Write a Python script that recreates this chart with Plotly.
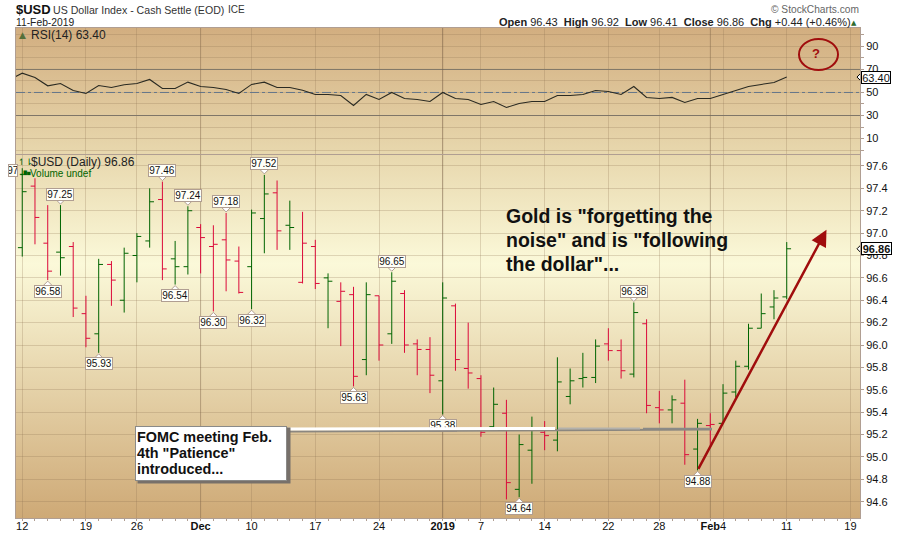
"""$USD daily bars with RSI(14) panel, StockCharts style, with chart notes on top."""

import base64

import numpy as np
import plotly.graph_objects as go
from plotly.subplots import make_subplots

# trading day index -> tick label
X_TICK_IDX = [0, 5, 9, 14, 18, 23, 28, 33, 36, 41, 46, 50, 54, 55, 60, 65]
X_TICK_TEXT = ["12", "19", "26", "<b>Dec</b>", "10", "17", "24", "<b>2019</b>", "7", "14",
               "22", "28", "<b>Feb</b>", "4", "11", "19"]
MONTH_IDX = [14, 54]
YEAR_IDX = [33]

OPENS = [96.87, 97.42, 96.91, 96.83, 96.88, 96.28, 96.10, 96.72, 96.40, 96.80, 96.93, 97.30, 96.77,
         96.70, 97.05, 96.88, 96.94, 96.75, 96.70, 97.13, 97.36, 97.07, 96.56, 96.88, 96.60, 96.39,
         96.45, 95.87, 96.44, 96.10, 96.46, 96.01, 95.96, 95.68, 96.35, 95.79, 95.70, 95.27, 95.39,
         94.71, 95.06, 95.22, 95.15, 95.54, 95.70, 95.71, 96.01, 95.95, 95.74, 96.19, 95.44, 95.42,
         95.48, 95.07, 95.28, 95.30, 95.58, 95.81, 96.15, 96.34, 96.43]
HIGHS = [97.58, 97.49, 97.25, 97.25, 96.92, 96.44, 96.77, 96.75, 96.87, 97.00, 97.40, 97.46, 96.93,
         97.24, 97.08, 97.07, 97.18, 96.88, 97.21, 97.52, 97.47, 97.29, 97.19, 96.94, 96.64, 96.56,
         96.52, 96.56, 96.44, 96.65, 96.49, 96.05, 96.07, 96.56, 96.37, 96.20, 95.73, 95.62, 95.51,
         95.20, 95.36, 95.32, 95.89, 95.79, 95.93, 96.05, 96.15, 96.05, 96.38, 96.23, 95.59, 95.55,
         95.69, 95.34, 95.39, 95.65, 95.86, 96.19, 96.46, 96.49, 96.92]
LOWS = [96.79, 96.90, 96.58, 96.62, 96.25, 95.98, 95.93, 96.35, 96.29, 96.56, 96.87, 96.58, 96.54,
        96.63, 96.64, 96.30, 96.48, 96.46, 96.32, 96.82, 96.85, 96.85, 96.55, 96.50, 96.15, 95.99,
        95.63, 95.73, 95.86, 96.01, 95.93, 95.73, 95.57, 95.38, 95.77, 95.61, 95.18, 95.26, 94.62,
        94.64, 94.76, 95.06, 95.05, 95.47, 95.62, 95.66, 95.86, 95.70, 95.71, 95.39, 95.30, 95.30,
        94.93, 94.88, 95.10, 95.30, 95.53, 95.78, 96.15, 96.23, 96.41]
CLOSES = [97.37, 97.14, 96.66, 96.78, 96.33, 96.06, 96.72, 96.58, 96.82, 96.97, 97.28, 96.68, 96.70,
          97.20, 96.96, 96.90, 96.76, 96.47, 97.18, 97.35, 97.02, 97.05, 96.91, 96.55, 96.57, 96.48,
          95.72, 96.45, 96.00, 96.57, 96.00, 95.96, 95.73, 96.42, 95.87, 95.75, 95.22, 95.47, 94.77,
          95.11, 95.26, 95.19, 95.67, 95.68, 95.71, 95.99, 95.95, 95.77, 96.29, 95.46, 95.42, 95.51,
          95.02, 95.30, 95.29, 95.57, 95.81, 96.15, 96.28, 96.42, 96.86]

# first value belongs to the session before the chart starts (clipped at the left edge)
RSI_VALUES = [61.0, 66.8, 63.0, 55.8, 57.8, 51.7, 49.1, 56.1, 54.3, 56.7, 57.8, 61.3, 53.5, 53.5, 59.0,
              55.2, 54.3, 52.6, 49.1, 57.0, 59.0, 54.3, 54.3, 52.0, 48.3, 48.3, 47.4, 38.7, 48.3, 43.9,
              50.0, 44.8, 43.9, 42.2, 50.0, 44.8, 43.9, 39.6, 42.2, 37.0, 40.4, 42.2, 42.2, 47.4, 47.4,
              48.3, 51.7, 50.9, 48.3, 55.2, 45.7, 44.8, 45.7, 41.3, 44.8, 44.8, 48.3, 51.7, 55.2, 57.0,
              58.7, 63.4]

# labelled extremes: (bar index, value)
HIGH_LABELS = [(3, 97.25), (11, 97.46), (13, 97.24), (16, 97.18), (19, 97.52), (29, 96.65), (48, 96.38)]
LOW_LABELS = [(2, 96.58), (6, 95.93), (12, 96.54), (15, 96.30), (18, 96.32), (26, 95.63), (33, 95.38),
              (39, 94.64), (53, 94.88)]

PRICE_TICKS = [94.6, 94.8, 95.0, 95.2, 95.4, 95.6, 95.8, 96.0, 96.2, 96.4, 96.6, 96.8, 97.0, 97.2, 97.4, 97.6]
RSI_TICKS = [0, 10, 20, 30, 40, 50, 60, 70, 80, 90, 100]
RSI_TICK_TEXT = ["", "10", "", "30", "", "50", "", "70", "", "90", ""]

FONT = "Liberation Sans"
RED = "#DB0A3A"
GREEN = "#006400"
DARKRED = "#A00D0D"
GRID = "rgba(140,110,80,0.25)"
FRAME = "#B09E92"

# plot frame in page pixels
L, R, T, B = 16, 860, 28, 518
XR = [-0.49, 65.75]
Y_PRICE = [94.454, 97.698]
Y_RSI = [-4.3, 106]


def px(x):
    return (x - L) / (R - L)


def py(y):
    return (B - y) / (B - T)


def gradient(stops):
    parts = "".join(f'<stop offset="{o}" stop-color="{c}"/>' for o, c in stops)
    svg = ('<svg xmlns="http://www.w3.org/2000/svg" width="10" height="100" viewBox="0 0 10 100" '
           'preserveAspectRatio="none"><defs><linearGradient id="g" x1="0" y1="0" x2="0" y2="1">'
           f'{parts}</linearGradient></defs><rect width="10" height="100" fill="url(#g)"/></svg>')
    return "data:image/svg+xml;base64," + base64.b64encode(svg.encode()).decode()


def note(x, y, text, size=11, color="#111", anchor="left", family=FONT, **kw):
    # annotations carry 2px of padding around the text
    shift = {"left": -2, "right": 2, "center": 0}[anchor]
    fig.add_annotation(xref="paper", yref="paper", x=px(x + shift), y=py(y), text=text, showarrow=False,
                       xanchor=anchor, yanchor="middle", align=anchor,
                       font=dict(family=family, size=size, color=color), **kw)


def streak(x0, y0, x1, y1, color, width):
    # plain line drawn as an annotation arrow so it sits over the value labels
    fig.add_annotation(xref="paper", yref="paper", x=px(x1), y=py(y1), text=" ", showarrow=True,
                       axref="pixel", ayref="pixel", ax=x0 - x1, ay=y0 - y1, arrowhead=0,
                       arrowcolor=color, arrowwidth=width, standoff=0)


def pointer(xref, yref, x, y, path, line=FRAME):
    fig.add_shape(type="path", xref=xref, yref=yref, xsizemode="pixel", ysizemode="pixel",
                  xanchor=x, yanchor=y, path=path, fillcolor="white", line=dict(color=line, width=1))


def level(y, color, dash="solid"):
    fig.add_shape(type="line", xref="x", yref="y", x0=XR[0], x1=XR[1], y0=y, y1=y, layer="between",
                  line=dict(color=color, width=1, dash=dash))


fig = make_subplots(rows=2, cols=1, shared_xaxes=True, vertical_spacing=0, row_heights=[127, 363])

# ---- panel backgrounds ----
fig.add_layout_image(source=gradient([(0, "#D2AE80"), (1, "#E8D8AE")]), xref="x", yref="y",
                     x=XR[0], y=Y_RSI[1], sizex=XR[1] - XR[0], sizey=Y_RSI[1] - Y_RSI[0],
                     xanchor="left", yanchor="top", sizing="stretch", layer="below")
fig.add_layout_image(source=gradient([(0, "#E8D8AE"), (0.3, "#FBF9D9"), (1, "#CEA976")]), xref="x2", yref="y2",
                     x=XR[0], y=Y_PRICE[1], sizex=XR[1] - XR[0], sizey=Y_PRICE[1] - Y_PRICE[0],
                     xanchor="left", yanchor="top", sizing="stretch", layer="below")

# ---- RSI ----
level(70, "#7F7668")
level(30, "#7F7668")
level(50, "#64778A", "dashdot")
fig.add_trace(go.Scatter(x=list(range(-1, 61)), y=RSI_VALUES, mode="lines",
                         line=dict(color="#2A2A22", width=1.1), showlegend=False), row=1, col=1)

# ---- price bars, coloured against the previous close ----
closes = np.array(CLOSES)
up = np.r_[True, closes[1:] >= closes[:-1]]
idx = np.arange(len(CLOSES))
for mask, color in ((up, GREEN), (~up, RED)):
    fig.add_trace(go.Ohlc(x=idx[mask], open=np.array(OPENS)[mask], high=np.array(HIGHS)[mask],
                          low=np.array(LOWS)[mask], close=closes[mask], tickwidth=0.34,
                          increasing_line=dict(color=color, width=1),
                          decreasing_line=dict(color=color, width=1), showlegend=False), row=2, col=1)

for xref, yref, yr in (("x", "y", Y_RSI), ("x2", "y2", Y_PRICE)):
    for i in MONTH_IDX:
        fig.add_shape(type="line", xref=xref, yref=yref, x0=i, x1=i, y0=yr[0], y1=yr[1], layer="between",
                      line=dict(color="rgba(120,95,70,0.28)", width=1))
    for i in YEAR_IDX:
        fig.add_shape(type="line", xref=xref, yref=yref, x0=i, x1=i, y0=yr[0], y1=yr[1], layer="between",
                      line=dict(color="rgba(110,85,65,0.42)", width=1))

# ---- value labels ----
for i, v in HIGH_LABELS:
    pointer("x2", "y2", i, v, "M -5,6 L 5,6 L 0,1 Z")
    fig.add_annotation(xref="x2", yref="y2", x=i, y=v, yshift=11, text=f"{v:.2f}", showarrow=False, width=26,
                       height=11, bgcolor="#FFFFF8", bordercolor=FRAME, borderwidth=1, borderpad=0,
                       font=dict(family=FONT, size=10, color="#111"))
for i, v in LOW_LABELS:
    pointer("x2", "y2", i, v, "M -5,-6 L 5,-6 L 0,-1 Z")
    fig.add_annotation(xref="x2", yref="y2", x=i, y=v, yshift=-11, text=f"{v:.2f}", showarrow=False, width=26,
                       height=11, bgcolor="#FFFFF8", bordercolor=FRAME, borderwidth=1, borderpad=0,
                       font=dict(family=FONT, size=10, color="#111"))
# first bar's label, cut off at the frame
fig.add_annotation(xref="paper", yref="paper", x=px(8), y=py(163.5), text="97", showarrow=False, xanchor="left",
                   width=8, height=11, bgcolor="#FFFFF8", bordercolor=FRAME, borderwidth=1, borderpad=0,
                   font=dict(family=FONT, size=10, color="#111"))

# ---- right hand value flags ----
pointer("x", "y", XR[1], 63.40, "M -3,0 L 2,5 L 2,-5 Z", line="#000")
fig.add_annotation(xref="paper", yref="y", x=px(861), y=63.40, text="63.40", showarrow=False, xanchor="left", width=28,
                   height=11, bgcolor="white", bordercolor="#000", borderwidth=1, borderpad=0,
                   font=dict(family=FONT, size=11, color="#111"))
pointer("x2", "y2", XR[1], 96.86, "M -3,0 L 2,5 L 2,-5 Z", line="#000")
fig.add_annotation(xref="paper", yref="y2", x=px(861), y=96.86, text="<b>96.86</b>", showarrow=False, xanchor="left",
                   width=29, height=11, bgcolor="white", bordercolor="#000", borderwidth=1, borderpad=0,
                   font=dict(family=FONT, size=11, color="#111"))

# ---- header and panel legends ----
note(16, 9.5, "<b>$USD</b>", size=13)
note(53, 9.5, "US Dollar Index - Cash Settle (EOD)", size=10.6, color="#333")
note(228, 9.5, "ICE", size=10, color="#333")
note(16, 22.5, "11-Feb-2019", size=10.3, color="#222")
note(499, 22.5, "<b>Open</b> 96.43  <b>High</b> 96.92  <b>Low</b> 96.41  <b>Close</b> 96.86  <b>Chg</b> +0.44 (+0.46%)", size=11,
     color="#222")
note(851, 23, "▲", size=7, color="#2E6B2E", family="DejaVu Sans")
note(859, 9.5, "© StockCharts.com", size=10.2, color="#666", anchor="right")
note(19, 35, "▲", size=9, color="#55703A", family="DejaVu Sans")
note(31, 35.5, "RSI(14) 63.40", size=12, color="#222")
note(18, 161.5, "↿⇂", size=9, color=GREEN, family="DejaVu Sans")
note(31, 162, "$USD (Daily) 96.86", size=12, color="#222")
note(19, 173, "▂▇▅", size=4.5, color=GREEN, family="DejaVu Sans")
note(30, 173, "Volume undef", size=10, color=GREEN)

# ---- chart notes ----
note(506, 216, "<b>Gold is \"forgetting the</b>", size=19.5)
note(506, 240, "<b>noise\" and is \"following</b>", size=19.5)
note(506, 264, "<b>the dollar\"...</b>", size=19.5)

fig.add_annotation(xref="x2", yref="y2", x=63.12, y=97.03, ax=53, ay=94.88, axref="x2", ayref="y2", text="",
                   showarrow=True, arrowhead=2, arrowsize=1.3, arrowwidth=2.5, arrowcolor=DARKRED, standoff=0)

fig.add_shape(type="circle", xref="paper", yref="paper", x0=px(799), x1=px(838), y0=py(70), y1=py(39),
              line=dict(color=DARKRED, width=2))
note(816, 54, "<b>?</b>", size=13, color=DARKRED, anchor="center")

# FOMC callout: tail first, then shadow and box
streak(285, 431.5, 712, 429.5, "#8B8780", 2)
streak(285, 429, 555, 428.5, "#FFFFFF", 3)
streak(555, 428.5, 640, 428.5, "#B3B1AC", 2)
streak(640, 428.5, 712, 428.5, "#8A8A88", 1.5)
note(139, 455, " ", size=11, width=150, height=53, bgcolor="#77706A")
note(137, 453.5, " ", size=11, width=148, height=51, bgcolor="white", bordercolor="#8A8A88", borderwidth=1, borderpad=1)
note(137, 437, "<b>FOMC meeting Feb.</b>", size=14.4)
note(137, 453, "<b>4th \"Patience\"</b>", size=14.4)
note(137, 469, "<b>introduced...</b>", size=14.4)

# ---- axes ----
fig.update_xaxes(type="linear", range=XR, tickmode="array", tickvals=X_TICK_IDX, ticktext=X_TICK_TEXT, tickangle=0,
                 showgrid=True, gridcolor=GRID, gridwidth=1, zeroline=False, showline=True, linecolor=FRAME,
                 mirror=True, rangeslider_visible=False, automargin=False)
fig.update_xaxes(ticks="outside", ticklen=2, tickcolor=FRAME, ticklabelstandoff=-4,
                 tickfont=dict(family=FONT, size=11, color="#111"),
                 minor=dict(ticks="outside", ticklen=2, dtick=1, tick0=0, tickcolor=FRAME, showgrid=False),
                 row=2, col=1)
fig.update_xaxes(ticks="", showticklabels=False, row=1, col=1)
fig.update_yaxes(side="right", ticks="outside", ticklen=3, tickcolor=FRAME, showgrid=True, gridcolor=GRID, gridwidth=1,
                 zeroline=False, showline=True, linecolor=FRAME, mirror=True, automargin=False,
                 tickfont=dict(family=FONT, size=11, color="#111"))
fig.update_yaxes(range=Y_RSI, tickmode="array", tickvals=RSI_TICKS, ticktext=RSI_TICK_TEXT, row=1, col=1)
fig.update_yaxes(range=Y_PRICE, tickmode="array", tickvals=PRICE_TICKS, ticktext=[f"{t:.1f}" for t in PRICE_TICKS],
                 row=2, col=1)

fig.update_layout(width=900, height=534, margin=dict(l=L, r=900 - R, t=T, b=534 - B), paper_bgcolor="white",
                  plot_bgcolor="rgba(0,0,0,0)", showlegend=False, hovermode=False, font=dict(family=FONT))

fig.write_html("out.html", config={"displayModeBar": False}, post_script="document.body.style.margin='0';")
